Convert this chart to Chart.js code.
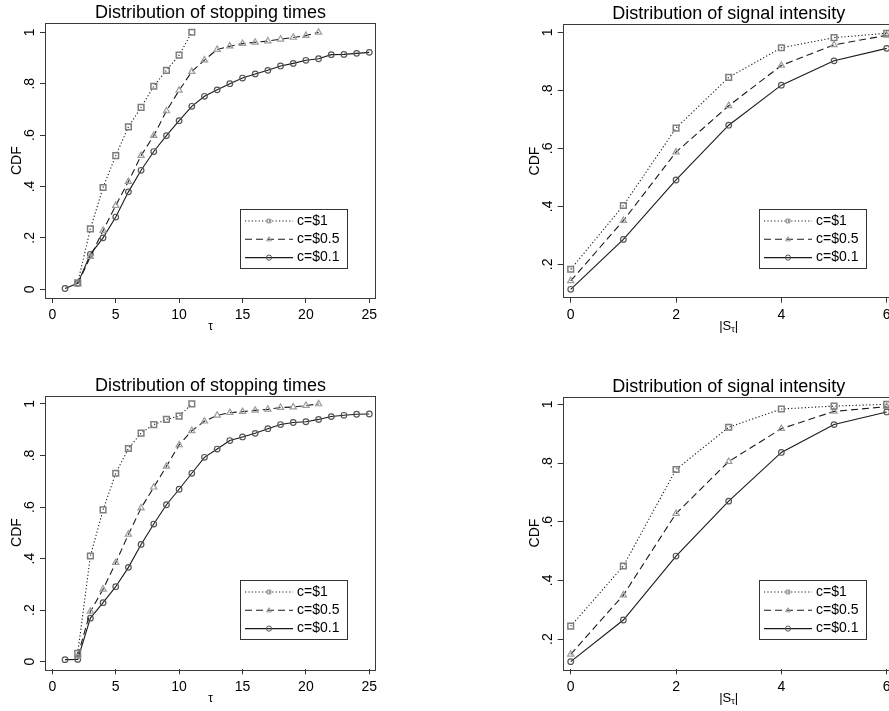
<!DOCTYPE html>
<html><head><meta charset="utf-8">
<script src="https://cdn.jsdelivr.net/npm/chart.js@4.4.1/dist/chart.umd.min.js"></script>
<style>
html,body{margin:0;padding:0;background:#fff;width:889px;height:711px;overflow:hidden;position:relative;}
canvas{position:absolute;}
</style></head><body>
<canvas id="tl" width="440" height="350" style="left:0;top:0;width:440px;height:350px"></canvas>
<canvas id="tr" width="470" height="350" style="left:440px;top:0;width:470px;height:350px"></canvas>
<canvas id="bl" width="440" height="361" style="left:0;top:350px;width:440px;height:361px"></canvas>
<canvas id="br" width="470" height="361" style="left:440px;top:350px;width:470px;height:361px"></canvas>
<script>
const FONT = '"Liberation Sans", Arial, Helvetica, sans-serif';

// ---- data ----
const seriesLabels = ['c=$1', 'c=$0.5', 'c=$0.1'];
const panelTitles = ['Distribution of stopping times', 'Distribution of signal intensity'];
const yAxisTitle = 'CDF';

const tauC1  = [2,3,4,5,6,7,8,9,10,11];
const tauC05 = [2,3,4,5,6,7,8,9,10,11,12,13,14,15,16,17,18,19,20,21];
const tauC01 = [1,2,3,4,5,6,7,8,9,10,11,12,13,14,15,16,17,18,19,20,21,22,23,24,25];
const absS   = [0,1,2,3,4,5,6];

// top-left: stopping times
const stopTopC1  = [0.025,0.235,0.396,0.52,0.632,0.708,0.79,0.852,0.911,1.0];
const stopTopC05 = [0.021,0.127,0.228,0.326,0.419,0.52,0.598,0.694,0.774,0.847,0.892,0.933,0.946,0.956,0.961,0.966,0.973,0.98,0.987,1.0];
const stopTopC01 = [0.003,0.023,0.136,0.2,0.281,0.379,0.463,0.536,0.598,0.656,0.712,0.751,0.776,0.8,0.822,0.838,0.852,0.869,0.879,0.891,0.897,0.913,0.914,0.918,0.922];
// bottom-left: stopping times
const stopBotC1  = [0.032,0.41,0.589,0.731,0.827,0.887,0.92,0.94,0.953,1.0];
const stopBotC05 = [0.022,0.195,0.281,0.384,0.494,0.596,0.677,0.758,0.841,0.896,0.933,0.956,0.966,0.97,0.975,0.979,0.986,0.988,0.994,1.0];
const stopBotC01 = [0.008,0.009,0.169,0.229,0.291,0.366,0.455,0.534,0.609,0.669,0.731,0.793,0.825,0.858,0.872,0.886,0.904,0.92,0.928,0.931,0.94,0.951,0.956,0.96,0.961];
// top-right: signal intensity
const sigTopC1  = [0.183,0.403,0.670,0.845,0.947,0.982,0.997];
const sigTopC05 = [0.143,0.351,0.587,0.747,0.886,0.957,0.990];
const sigTopC01 = [0.114,0.286,0.491,0.680,0.818,0.902,0.945];
// bottom-right: signal intensity
const sigBotC1  = [0.244,0.449,0.778,0.922,0.984,0.994,1.0];
const sigBotC05 = [0.148,0.350,0.628,0.805,0.917,0.976,0.992];
const sigBotC01 = [0.123,0.265,0.483,0.670,0.836,0.931,0.974];

// ticks
const tauTicks = [0,5,10,15,20,25];
const tauTickLabels = ['0','5','10','15','20','25'];
const sTicks = [0,2,4,6];
const sTickLabels = ['0','2','4','6'];
const cdfTicksStop = [0,0.2,0.4,0.6,0.8,1];
const cdfTickLabelsStop = ['0','.2','.4','.6','.8','1'];
const cdfTicksSig = [0.2,0.4,0.6,0.8,1];
const cdfTickLabelsSig = ['.2','.4','.6','.8','1'];

// ---- styles ----
const STYLES = [
  {borderColor:'#1a1a1a', borderWidth:1.1, borderDash:[1.2,2.2], pointStyle:'rect', pointRadius:4, pointBorderColor:'#7e7e7e', pointBorderWidth:1.5},
  {borderColor:'#1a1a1a', borderWidth:1.1, borderDash:[7,4], pointStyle:'triangle', pointRadius:3.6, pointBorderColor:'#9c9c9c', pointBorderWidth:1.2},
  {borderColor:'#1a1a1a', borderWidth:1.1, borderDash:[], pointStyle:'circle', pointRadius:2.8, pointBorderColor:'#555555', pointBorderWidth:1.2}
];

function drawMarker(ctx, style, x, y, r) {
  ctx.beginPath();
  if (style === 'rect') {
    const s = r * Math.SQRT1_2;
    ctx.rect(x - s, y - s, 2*s, 2*s);
  } else if (style === 'triangle') {
    ctx.moveTo(x, y - r);
    ctx.lineTo(x + r*0.95, y + r*0.6);
    ctx.lineTo(x - r*0.95, y + r*0.6);
    ctx.closePath();
  } else {
    ctx.arc(x, y, r, 0, Math.PI*2);
  }
  ctx.stroke();
}

const deco = {
  id: 'stataDeco',
  afterDraw(chart, args, opts) {
    const ctx = chart.ctx, a = chart.chartArea;
    ctx.save();
    // frame
    ctx.strokeStyle = '#3a3a3a'; ctx.lineWidth = 1; ctx.setLineDash([]);
    ctx.strokeRect(Math.round(a.left)+0.5, Math.round(a.top)+0.5, Math.round(a.right-a.left)-1, Math.round(a.bottom-a.top));
    const cx = (a.left + a.right) / 2;
    // title
    ctx.fillStyle = '#000';
    ctx.font = '18px ' + FONT;
    ctx.textAlign = 'center'; ctx.textBaseline = 'alphabetic';
    ctx.fillText(opts.title, cx, a.top - 5);
    // y title
    ctx.font = '14px ' + FONT;
    ctx.save();
    ctx.translate(a.left - 28, (a.top + a.bottom) / 2);
    ctx.rotate(-Math.PI/2);
    ctx.textBaseline = 'middle';
    ctx.fillText(yAxisTitle, 0, 0);
    ctx.restore();
    // x title
    const xt = opts.xTitle;
    const ty = a.bottom + 29;
    ctx.textBaseline = 'middle';
    if (!xt.sub) {
      ctx.font = '12px ' + FONT;
      ctx.textAlign = 'center';
      ctx.fillText(xt.main, cx, ty);
    } else {
      ctx.textAlign = 'left';
      ctx.font = '13px ' + FONT; const w1 = ctx.measureText(xt.main).width; const w3 = ctx.measureText(xt.tail).width;
      ctx.font = '9px ' + FONT; const w2 = ctx.measureText(xt.sub).width;
      let x0 = cx - (w1 + w2 + w3) / 2;
      ctx.font = '13px ' + FONT; ctx.fillText(xt.main, x0, ty);
      ctx.font = '9px ' + FONT; ctx.fillText(xt.sub, x0 + w1, ty + 3);
      ctx.font = '13px ' + FONT; ctx.fillText(xt.tail, x0 + w1 + w2, ty);
    }
    // legend
    const bw = 107, bh = 59;
    const bx = Math.round(a.right - 29 - bw), by = Math.round(a.bottom - 30 - bh);
    ctx.fillStyle = '#fff';
    ctx.fillRect(bx, by, bw, bh);
    ctx.strokeStyle = '#333'; ctx.lineWidth = 1;
    ctx.strokeRect(bx + 0.5, by + 0.5, bw, bh);
    chart.data.datasets.forEach((d, i) => {
      const ry = by + 12 + i * 18.3;
      ctx.strokeStyle = d.borderColor; ctx.lineWidth = d.borderWidth;
      ctx.setLineDash(d.borderDash || []);
      ctx.beginPath(); ctx.moveTo(bx + 5, ry); ctx.lineTo(bx + 53, ry); ctx.stroke();
      ctx.setLineDash([]);
      ctx.strokeStyle = d.pointBorderColor; ctx.lineWidth = 1;
      drawMarker(ctx, d.pointStyle, bx + 29, ry, 2.6);
      ctx.fillStyle = '#000';
      ctx.font = '14px ' + FONT; ctx.textAlign = 'left'; ctx.textBaseline = 'middle';
      ctx.fillText(d.label, bx + 57, ry);
    });
    ctx.restore();
  }
};

function zeroPad(sc) { sc.paddingLeft = 0; sc.paddingRight = 0; sc.paddingTop = 0; sc.paddingBottom = 0; }

function makeChart(id, cfg) {
  const datasets = cfg.series.map((s, k) => Object.assign({
    label: seriesLabels[k],
    data: s.x.map((x, i) => ({x: x, y: s.y[i]})),
    fill: false, tension: 0,
    pointBackgroundColor: 'rgba(255,255,255,0)'
  }, STYLES[k]));
  return new Chart(document.getElementById(id), {
    type: 'line',
    data: {datasets: datasets},
    options: {
      responsive: false, animation: false, devicePixelRatio: 1,
      events: [],
      layout: {padding: cfg.pad},
      plugins: {legend: {display: false}, title: {display: false}, tooltip: {enabled: false},
        stataDeco: {title: cfg.title, xTitle: cfg.xTitle}},
      scales: {
        x: {
          type: 'linear', min: cfg.xr[0], max: cfg.xr[1],
          afterBuildTicks: sc => { sc.ticks = cfg.xt.map(v => ({value: v})); },
          afterFit: sc => { sc.height = 30; zeroPad(sc); },
          ticks: {autoSkip: false, maxRotation: 0, minRotation: 0, padding: 4, color: '#000',
            font: {family: FONT, size: 14}, callback: (v, i) => cfg.xl[i]},
          grid: {drawOnChartArea: false, drawTicks: true, tickLength: 5, color: '#333'},
          border: {display: false}
        },
        y: {
          type: 'linear', min: cfg.yr[0], max: cfg.yr[1],
          afterBuildTicks: sc => { sc.ticks = cfg.yt.map(v => ({value: v})); },
          afterFit: sc => { sc.width = 45; zeroPad(sc); },
          ticks: {autoSkip: false, minRotation: 90, maxRotation: 90, crossAlign: 'center', padding: 4, color: '#000',
            font: {family: FONT, size: 14}, callback: (v, i) => cfg.yl[i]},
          grid: {drawOnChartArea: false, drawTicks: true, tickLength: 5, color: '#333'},
          border: {display: false}
        }
      }
    },
    plugins: [deco]
  });
}

const tauTitle = {main: 'τ'};
const sTitle = {main: '|S', sub: 'τ', tail: '|'};

makeChart('tl', {
  title: panelTitles[0], xTitle: tauTitle,
  series: [{x: tauC1, y: stopTopC1}, {x: tauC05, y: stopTopC05}, {x: tauC01, y: stopTopC01}],
  xr: [-0.58, 25.53], yr: [-0.034, 1.035],
  xt: tauTicks, xl: tauTickLabels, yt: cdfTicksStop, yl: cdfTickLabelsStop,
  pad: {left: 0, right: 64, top: 23.3, bottom: 22}
});
makeChart('tr', {
  title: panelTitles[1], xTitle: sTitle,
  series: [{x: absS, y: sigTopC1}, {x: absS, y: sigTopC05}, {x: absS, y: sigTopC01}],
  xr: [-0.152, 6.152], yr: [0.085, 1.028],
  xt: sTicks, xl: sTickLabels, yt: cdfTicksSig, yl: cdfTickLabelsSig,
  pad: {left: 77.7, right: 15.3, top: 24.3, bottom: 22.3}
});
makeChart('bl', {
  title: panelTitles[0], xTitle: tauTitle,
  series: [{x: tauC1, y: stopBotC1}, {x: tauC05, y: stopBotC05}, {x: tauC01, y: stopBotC01}],
  xr: [-0.58, 25.53], yr: [-0.0295, 1.032],
  xt: tauTicks, xl: tauTickLabels, yt: cdfTicksStop, yl: cdfTickLabelsStop,
  pad: {left: 0, right: 64, top: 45.7, bottom: 11.7}
});
makeChart('br', {
  title: panelTitles[1], xTitle: sTitle,
  series: [{x: absS, y: sigBotC1}, {x: absS, y: sigBotC05}, {x: absS, y: sigBotC01}],
  xr: [-0.152, 6.152], yr: [0.097, 1.026],
  xt: sTicks, xl: sTickLabels, yt: cdfTicksSig, yl: cdfTickLabelsSig,
  pad: {left: 77.7, right: 15.3, top: 46.7, bottom: 11.7}
});
</script>
</body></html>
